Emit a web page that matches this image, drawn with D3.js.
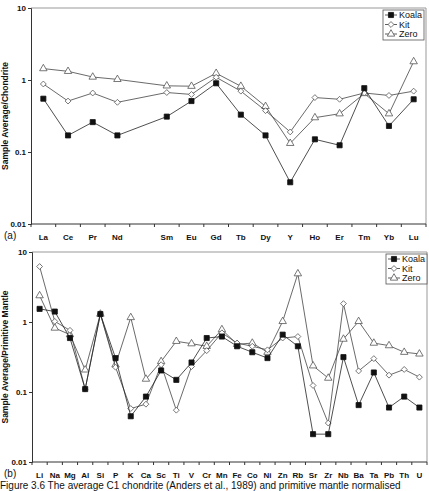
<!DOCTYPE html>
<html>
<head>
<meta charset="utf-8">
<script src="https://cdn.jsdelivr.net/npm/d3@7"></script>
<style>
  body { margin: 0; background: #fff; }
  svg { display: block; font-family: "Liberation Sans", Arial, sans-serif; }
  .tick-label { font-size: 8px; font-weight: bold; fill: #111; }
  .axis-title { font-size: 8.5px; font-weight: bold; fill: #111; }
  .legend-text { font-size: 9px; fill: #111; }
</style>
</head>
<body>
<div id="chart"></div>
<script>
// panel (a) - chondrite normalised REE ("" = empty Pm slot)
const reeLabels = ["La", "Ce", "Pr", "Nd", "", "Sm", "Eu", "Gd", "Tb", "Dy", "Y", "Ho", "Er", "Tm", "Yb", "Lu"];
const reeKoala = [0.55, 0.17, 0.26, 0.17, null, 0.31, 0.51, 0.90, 0.33, 0.17, 0.038, 0.15, 0.124, 0.77, 0.23, 0.54];
const reeKit = [0.88, 0.51, 0.66, 0.49, null, 0.67, 0.63, 1.09, 0.70, 0.375, 0.19, 0.57, 0.54, 0.66, 0.61, 0.70];
const reeZero = [1.44, 1.32, 1.10, 1.02, null, 0.83, 0.82, 1.24, 0.82, 0.43, 0.132, 0.30, 0.34, 0.65, 0.34, 1.80];

// panel (b) - primitive mantle normalised
const pmLabels = ["Li", "Na", "Mg", "Al", "Si", "P", "K", "Ca", "Sc", "Ti", "V", "Cr", "Mn", "Fe", "Co", "Ni", "Zn", "Rb", "Sr", "Zr", "Nb", "Ba", "Ta", "Pb", "Th", "U"];
const pmKoala = [1.54, 1.41, 0.59, 0.11, 1.30, 0.305, 0.045, 0.086, 0.203, 0.149, 0.264, 0.59, 0.62, 0.45, 0.37, 0.305, 0.66, 0.45, 0.025, 0.025, 0.315, 0.065, 0.19, 0.06, 0.086, 0.06];
const pmKit = [6.2, 1.02, 0.76, 0.11, 1.30, 0.226, 0.058, 0.067, 0.245, 0.055, 0.231, 0.39, 0.70, 0.50, 0.45, 0.40, 0.59, 0.62, 0.124, 0.036, 1.83, 0.20, 0.30, 0.174, 0.21, 0.163];
const pmZero = [2.38, 0.82, 0.66, 0.207, 1.30, 0.245, 1.16, 0.153, 0.273, 0.53, 0.49, 0.45, 0.78, 0.48, 0.50, 0.37, 1.02, 4.9, 0.237, 0.158, 0.57, 1.02, 0.50, 0.46, 0.37, 0.35];

const seriesNames = ["Koala", "Kit", "Zero"];
const yTicks = [0.01, 0.1, 1, 10];

const W = 429, H = 491;
const svg = d3.select("#chart").append("svg").attr("width", W).attr("height", H);

function symbolFor(name) {
  if (name === "Koala") return d3.symbol().type(d3.symbolSquare).size(26);
  if (name === "Kit") return d3.symbol().type(d3.symbolDiamond2 || d3.symbolDiamond).size(22);
  return d3.symbol().type(d3.symbolTriangle).size(24);
}
function fillFor(name) { return name === "Koala" ? "#111" : "#fff"; }
function strokeFor(name) { return name === "Koala" ? "#111" : "#555"; }

function drawPanel(opts) {
  const { left, top, right, bottom, labels, series, title, tag, legendX, legendY } = opts;

  const x = d3.scaleBand().domain(d3.range(labels.length)).range([left, right]).paddingInner(0).paddingOuter(0);
  const y = d3.scaleLog().domain([0.01, 10]).range([bottom, top]);
  const g = svg.append("g");

  // frame (top and right lighter)
  g.append("line").attr("x1", left).attr("x2", right).attr("y1", top).attr("y2", top).attr("stroke", "#999").attr("stroke-width", 1);
  g.append("line").attr("x1", right).attr("x2", right).attr("y1", top).attr("y2", bottom).attr("stroke", "#999").attr("stroke-width", 1);

  // y axis
  const yAxis = g.append("g").attr("transform", `translate(${left},0)`)
    .call(d3.axisLeft(y).tickValues(yTicks).tickSize(3).tickFormat(d => d3.format("~g")(d)));
  yAxis.select(".domain").attr("stroke", "#333");
  yAxis.selectAll(".tick line").attr("stroke", "#333");
  yAxis.selectAll(".tick text").attr("class", "tick-label").attr("x", -5).attr("font-family", null).attr("font-size", null);

  // x axis: ticks on band boundaries, labels at centres
  const xAxis = g.append("g").attr("transform", `translate(0,${bottom})`);
  xAxis.append("line").attr("x1", left).attr("x2", right).attr("stroke", "#333");
  xAxis.selectAll("line.t").data(d3.range(labels.length + 1)).enter().append("line")
    .attr("class", "t")
    .attr("x1", i => left + i * x.bandwidth()).attr("x2", i => left + i * x.bandwidth())
    .attr("y1", 0).attr("y2", 3).attr("stroke", "#333");
  xAxis.selectAll("text").data(labels).enter().append("text")
    .attr("class", "tick-label")
    .attr("x", (d, i) => x(i) + x.bandwidth() / 2)
    .attr("y", 16)
    .attr("text-anchor", "middle")
    .text(d => d);

  // y title
  g.append("text").attr("class", "axis-title")
    .attr("transform", `translate(8,${(top + bottom) / 2}) rotate(-90)`)
    .attr("text-anchor", "middle")
    .text(title);

  // panel tag
  g.append("text").attr("x", 4).attr("y", bottom + 14.5)
    .style("font-size", "10px").attr("fill", "#111").text(tag);

  const cx = i => x(i) + x.bandwidth() / 2;
  const line = d3.line().x(d => cx(d.i)).y(d => y(d.v));

  // series: draw Zero, Kit then Koala on top
  [2, 1, 0].forEach(k => {
    const name = seriesNames[k];
    const pts = series[k].map((v, i) => ({ i, v })).filter(d => d.v != null);
    g.append("path").attr("d", line(pts)).attr("fill", "none")
      .attr("stroke", name === "Koala" ? "#222" : "#444").attr("stroke-width", 0.8);
    g.selectAll(null).data(pts).enter().append("path")
      .attr("d", symbolFor(name)())
      .attr("transform", d => `translate(${cx(d.i)},${y(d.v)})`)
      .attr("fill", fillFor(name))
      .attr("stroke", strokeFor(name))
      .attr("stroke-width", 0.8);
  });

  // legend
  const lw = 41, lh = 30;
  const lg = g.append("g").attr("transform", `translate(${legendX},${legendY})`);
  lg.append("rect").attr("width", lw).attr("height", lh).attr("fill", "#fff").attr("stroke", "#555").attr("stroke-width", 0.8);
  seriesNames.forEach((name, k) => {
    const yy = 5 + k * 9.5;
    lg.append("line").attr("x1", 2).attr("x2", 14).attr("y1", yy).attr("y2", yy)
      .attr("stroke", "#333").attr("stroke-width", 0.8);
    lg.append("path").attr("d", symbolFor(name)()).attr("transform", `translate(8,${yy})`)
      .attr("fill", fillFor(name)).attr("stroke", strokeFor(name)).attr("stroke-width", 0.8);
    lg.append("text").attr("class", "legend-text").attr("x", 16).attr("y", yy + 3.2).text(name);
  });
}

drawPanel({
  left: 31, top: 8, right: 426, bottom: 224,
  labels: reeLabels, series: [reeKoala, reeKit, reeZero],
  title: "Sample Average/Chondrite", tag: "(a)",
  legendX: 383, legendY: 10
});

drawPanel({
  left: 32, top: 252, right: 427, bottom: 462,
  labels: pmLabels, series: [pmKoala, pmKit, pmZero],
  title: "Sample Average/Primitive Mantle", tag: "(b)",
  legendX: 386, legendY: 254
});

// caption at the bottom edge
svg.append("text").attr("x", 0).attr("y", 489)
  .style("font-size", "10px").attr("fill", "#111")
  .text("Figure 3.6 The average C1 chondrite (Anders et al., 1989) and primitive mantle normalised");
</script>
</body>
</html>
